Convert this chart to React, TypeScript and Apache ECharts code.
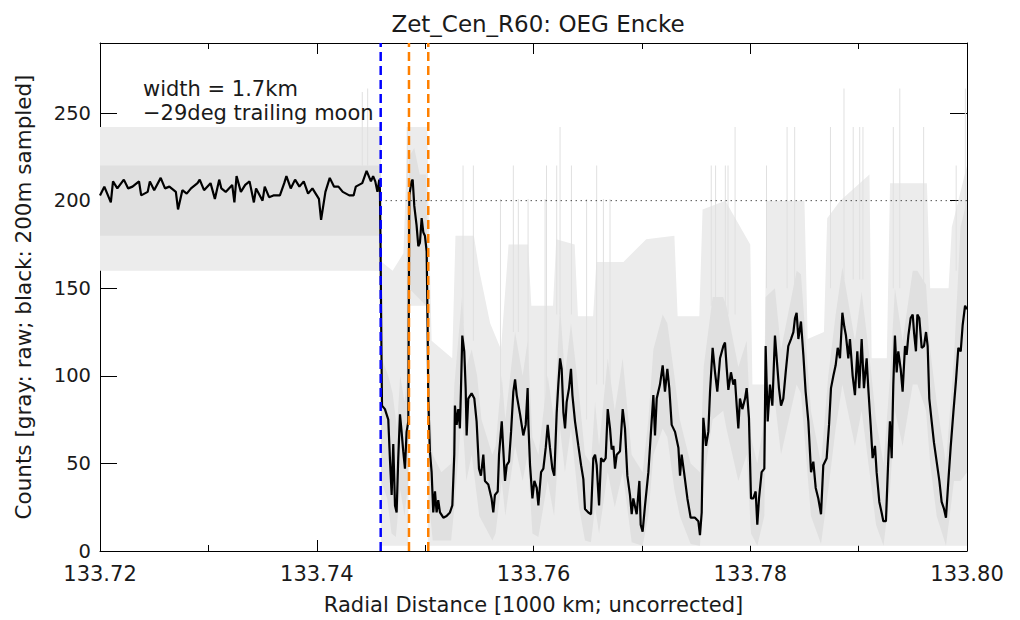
import React, { useEffect, useRef } from "react";
import * as echarts from "echarts";

// ---------- texts ----------
const TITLE = "Zet_Cen_R60: OEG Encke";
const X_NAME = "Radial Distance [1000 km; uncorrected]";
const Y_NAME = "Counts [gray: raw; black: 200m sampled]";
const NOTES = ["width = 1.7km", "\u221229deg trailing moon"];

// ---------- axes (x in km from 133 720 km) ----------
const xTickLabels = ["133.72", "133.74", "133.76", "133.78", "133.80"];
const X_MIN = 0;
const X_MAX = 80;
const X_STEP = 20;
const Y_MIN = 0;
const Y_MAX = 290;
const Y_STEP = 50;

// ---------- markers ----------
const markerKm = [25.9, 28.51, 30.29];
const markerColors = ["#0000ff", "#ff8000", "#ff8000"];
const refLevel = 200;
const refStartKm = 25.9;

// ---------- black: 200 m sampled counts [km, counts] ----------
const blackLine: [number, number][] = [
  [0, 203], [0.4, 208], [1.0, 199], [1.2, 211], [1.6, 207], [2.2, 212], [2.6, 207], [3.0, 208],
  [3.6, 211], [3.8, 203], [4.4, 205], [4.6, 211], [5.0, 206], [5.6, 213], [6.0, 207], [6.4, 208],
  [7.0, 205], [7.2, 195], [7.6, 206], [8.0, 204], [8.4, 207], [9.0, 210], [9.2, 212], [9.6, 206],
  [10.2, 210], [10.6, 201], [11.0, 212], [11.2, 207], [11.6, 205], [12.2, 209], [12.4, 199], [12.6, 214],
  [13.0, 205], [13.4, 209], [13.8, 211], [14.2, 199], [14.4, 207], [15.0, 200], [15.2, 208], [15.6, 202],
  [16.0, 203], [16.6, 203], [17.0, 210], [17.2, 214], [17.6, 207], [18.0, 212], [18.4, 208], [18.8, 211],
  [19.2, 204], [19.6, 207], [20.2, 201], [20.4, 189], [20.8, 205], [21.2, 213], [21.6, 208], [22.0, 208],
  [22.4, 205], [23.0, 203], [23.4, 203], [23.6, 208], [24.2, 210], [24.6, 217], [25.0, 211], [25.2, 214],
  [25.4, 211], [25.6, 205], [25.77, 212], [25.83, 206], [25.89, 171], [25.95, 127], [26.02, 83], [26.29, 81],
  [26.6, 75], [26.75, 53], [26.91, 32], [27.06, 61], [27.22, 26], [27.37, 22], [27.52, 53], [27.68, 78],
  [27.83, 68], [27.98, 57], [28.14, 47], [28.29, 68], [28.45, 74], [28.54, 203], [28.75, 211], [28.85, 212],
  [29.0, 197], [29.21, 186], [29.37, 174], [29.52, 176], [29.68, 190], [29.83, 182], [29.98, 180], [30.14, 171],
  [30.23, 129], [30.29, 87], [30.44, 57], [30.6, 45], [30.75, 22], [30.91, 34], [31.06, 22], [31.21, 29],
  [31.37, 22], [31.68, 19], [31.98, 20], [32.29, 22], [32.51, 26], [32.69, 55], [32.75, 83], [32.91, 72],
  [33.06, 81], [33.21, 70], [33.31, 93], [33.43, 123], [33.61, 114], [33.74, 93], [33.83, 66], [33.98, 87],
  [34.29, 90], [34.54, 87], [34.75, 74], [34.97, 47], [35.15, 43], [35.37, 55], [35.52, 40], [35.83, 38],
  [36.13, 30], [36.29, 22], [36.44, 32], [36.7, 34], [36.82, 55], [37.07, 74], [37.22, 57], [37.37, 40],
  [37.53, 49], [37.74, 51], [37.93, 68], [38.14, 91], [38.3, 98], [38.45, 89], [38.76, 78], [39.06, 66],
  [39.28, 72], [39.46, 93], [39.53, 72], [39.68, 49], [39.9, 30], [40.08, 40], [40.3, 36], [40.45, 26],
  [40.7, 45], [40.91, 47], [41.13, 59], [41.31, 72], [41.52, 59], [41.74, 47], [41.92, 43], [42.14, 79],
  [42.29, 95], [42.45, 110], [42.6, 104], [42.76, 79], [42.91, 70], [43.06, 85], [43.28, 93], [43.46, 104],
  [43.59, 89], [43.83, 74], [44.14, 60], [44.39, 49], [44.6, 41], [44.75, 24], [45.06, 22], [45.31, 21],
  [45.52, 53], [45.68, 55], [45.83, 49], [46.05, 26], [46.23, 53], [46.45, 51], [46.66, 53], [46.85, 81],
  [47.06, 70], [47.21, 58], [47.37, 60], [47.52, 47], [47.68, 55], [47.98, 57], [48.23, 81], [48.44, 70],
  [48.66, 43], [48.9, 32], [49.06, 21], [49.21, 30], [49.52, 21], [49.77, 40], [49.89, 15], [50.07, 11],
  [50.29, 26], [50.6, 45], [50.9, 74], [51.06, 89], [51.21, 66], [51.37, 87], [51.67, 95], [51.92, 106],
  [52.13, 91], [52.35, 104], [52.53, 93], [52.75, 72], [53.06, 68], [53.37, 59], [53.52, 43], [53.67, 55],
  [53.89, 45], [54.2, 30], [54.5, 19], [54.9, 19], [55.21, 17], [55.36, 9], [55.52, 22], [55.67, 76],
  [55.92, 60], [56.13, 68], [56.29, 91], [56.53, 116], [56.75, 102], [56.96, 91], [57.21, 110], [57.52, 117],
  [57.67, 119], [57.82, 105], [57.98, 92], [58.22, 102], [58.44, 95], [58.59, 98], [58.75, 83], [58.9, 70],
  [59.05, 87], [59.27, 81], [59.52, 87], [59.67, 93], [59.88, 76], [60.07, 30], [60.28, 30], [60.5, 34],
  [60.65, 15], [60.81, 30], [61.05, 45], [61.3, 47], [61.42, 117], [61.61, 74], [61.82, 95], [62.04, 83],
  [62.28, 123], [62.44, 110], [62.65, 93], [62.84, 83], [63.05, 87], [63.27, 102], [63.51, 117], [63.76, 121],
  [63.98, 125], [64.13, 133], [64.28, 136], [64.44, 121], [64.68, 131], [64.9, 112], [65.11, 91], [65.36, 74],
  [65.61, 45], [65.82, 51], [66.04, 36], [66.28, 30], [66.53, 21], [66.74, 49], [67.05, 53], [67.27, 72],
  [67.45, 93], [67.67, 100], [67.88, 106], [68.07, 116], [68.28, 110], [68.5, 136], [68.68, 128], [68.83, 123],
  [69.05, 110], [69.2, 121], [69.45, 100], [69.66, 89], [69.88, 114], [70.06, 93], [70.28, 121], [70.49, 93],
  [70.74, 110], [70.89, 93], [71.11, 72], [71.29, 53], [71.51, 60], [71.66, 45], [71.91, 28], [72.12, 22],
  [72.28, 17], [72.52, 17], [72.74, 53], [72.89, 74], [73.05, 53], [73.2, 95], [73.35, 123], [73.51, 102],
  [73.66, 114], [73.88, 104], [74.06, 91], [74.28, 117], [74.43, 112], [74.59, 123], [74.8, 133], [74.99, 135],
  [75.11, 125], [75.29, 114], [75.42, 135], [75.6, 133], [75.82, 116], [76.03, 117], [76.22, 125], [76.37, 117],
  [76.52, 87], [76.74, 74], [76.95, 62], [77.2, 51], [77.45, 40], [77.66, 28], [77.88, 24], [78.06, 19],
  [78.28, 40], [78.49, 59], [78.74, 79], [78.98, 97], [79.2, 116], [79.42, 114], [79.6, 129], [79.82, 140],
  [80, 138],
];

// ---------- gray raw counts: dense core envelope [km, counts] ----------
const grayCoreUpper: [number, number][] = [
  [0, 220], [25.9, 220], [26.0, 110], [26.6, 100], [27.0, 90], [27.4, 70], [27.7, 100], [28.1, 85],
  [28.45, 105], [28.5, 225], [29.0, 230], [29.5, 215], [30.1, 215], [30.25, 150], [30.4, 90], [30.7, 55],
  [31.5, 45], [32.4, 50], [32.7, 95], [33.4, 145], [33.8, 105], [34.3, 115], [34.8, 100], [35.2, 75],
  [36.2, 55], [36.5, 60], [37.07, 100], [37.4, 75], [38.3, 125], [39.0, 100], [39.46, 120], [39.9, 65],
  [40.45, 55], [41.31, 100], [41.9, 75], [42.45, 140], [42.9, 100], [43.46, 130], [44.2, 90], [44.75, 55],
  [45.3, 50], [45.68, 85], [46.05, 60], [46.85, 110], [47.5, 80], [48.23, 110], [49.06, 55], [50.07, 45],
  [50.6, 75], [51.06, 115], [51.92, 135], [52.35, 130], [53.0, 100], [53.5, 75], [54.5, 50], [55.36, 45],
  [55.7, 105], [56.53, 145], [57.5, 145], [57.8, 140], [58.9, 105], [59.67, 120], [60.07, 65], [60.65, 50],
  [61.3, 75], [61.42, 145], [62.28, 150], [62.84, 115], [64.28, 160], [64.68, 158], [65.6, 80], [66.53, 50],
  [67.2, 100], [67.88, 135], [68.5, 162], [69.66, 120], [70.28, 148], [71.11, 105], [71.6, 75], [72.3, 50],
  [72.9, 100], [73.35, 150], [74.06, 120], [74.99, 160], [75.42, 160], [76.22, 152], [76.6, 115], [77.2, 85],
  [78.06, 50], [78.8, 110], [79.4, 185], [80, 200],
];
const grayCoreLower: [number, number][] = [
  [0, 180], [25.9, 180], [25.95, 40], [26.5, 30], [26.9, 10], [27.3, 8], [27.7, 35], [28.1, 20],
  [28.45, 40], [28.5, 150], [29.3, 145], [30.1, 140], [30.25, 90], [30.4, 25], [30.7, 6], [32.4, 6],
  [32.7, 25], [33.4, 80], [33.8, 40], [34.3, 55], [35.0, 20], [36.2, 6], [36.5, 10], [37.07, 40],
  [37.4, 20], [38.3, 60], [39.0, 40], [39.46, 55], [39.9, 10], [40.45, 8], [41.31, 40], [41.9, 20],
  [42.45, 70], [42.9, 45], [43.46, 70], [44.2, 25], [44.75, 6], [45.3, 5], [45.68, 25], [46.05, 10],
  [46.85, 45], [47.5, 25], [48.23, 45], [49.06, 5], [50.07, 3], [50.6, 20], [51.06, 55], [51.92, 70],
  [52.35, 65], [53.0, 35], [53.5, 20], [54.5, 4], [55.36, 3], [55.7, 40], [56.53, 75], [57.5, 80],
  [57.8, 70], [58.9, 40], [59.67, 55], [60.07, 10], [60.65, 3], [61.3, 20], [61.42, 80], [62.28, 85],
  [62.84, 55], [64.28, 95], [64.68, 90], [65.6, 20], [66.53, 4], [67.2, 35], [67.88, 70], [68.5, 95],
  [69.66, 60], [70.28, 80], [71.11, 40], [71.6, 15], [72.3, 3], [72.9, 35], [73.35, 80], [74.06, 60],
  [74.99, 95], [75.42, 95], [76.22, 80], [76.6, 50], [77.2, 20], [78.06, 3], [78.8, 40], [79.4, 40],
  [80, 45],
];
// ---------- gray raw counts: sparse outer envelope [km, counts] ----------
const grayOuterUpper: [number, number][] = [
  [0, 242], [25.9, 242], [26.0, 165], [27.0, 160], [28.0, 170], [28.4, 242], [30.2, 242], [30.3, 200],
  [30.6, 120], [32.5, 110], [32.8, 180], [34.5, 180], [35.0, 160], [36.0, 130], [37.0, 115], [37.7, 175],
  [39.5, 175], [39.8, 140], [41.8, 140], [42.1, 178], [43.8, 175], [44.1, 134], [45.5, 134], [45.8, 165],
  [48.3, 165], [50.4, 178], [53.0, 180], [53.3, 134], [55.3, 134], [55.6, 195], [57.7, 200], [60.0, 175],
  [60.2, 95], [61.3, 95], [61.5, 200], [65.0, 200], [65.3, 121], [66.8, 125], [67.1, 190], [68.3, 200],
  [71.0, 215], [71.2, 110], [72.6, 110], [72.9, 210], [76.3, 210], [76.6, 150], [78.3, 150], [78.6, 185],
  [80, 220],
];
const grayOuterLower: [number, number][] = [
  [0, 160], [25.9, 160], [25.92, 3], [28.45, 3], [28.5, 140], [30.2, 140], [30.25, 3], [80, 3],
];

// ---------- gray: isolated tall raw spikes [km, lo, hi] ----------
const graySpikes: number[][] = [
  [24.2, 220, 262], [24.7, 220, 264], [28.35, 100, 242], [33.5, 130, 220], [34.45, 120, 220],
  [36.95, 90, 201], [38.14, 125, 220], [38.6, 125, 201], [39.5, 100, 201], [41.07, 80, 201],
  [41.2, 80, 220], [42.14, 135, 220], [42.45, 135, 242], [43.5, 135, 220], [44.9, 75, 201],
  [45.83, 95, 220], [46.45, 95, 201], [47.06, 95, 201], [56.4, 140, 220], [56.8, 140, 220],
  [57.7, 135, 220], [57.95, 135, 220], [58.6, 135, 242], [61.5, 150, 220], [63.4, 150, 242],
  [64.1, 150, 242], [67.4, 150, 242], [68.65, 155, 264], [69.5, 155, 242], [70.1, 155, 242],
  [70.4, 155, 242], [73.2, 150, 242], [73.8, 150, 264], [76.0, 150, 242], [79.0, 160, 220],
  [79.85, 160, 264],
];

// ---------- styles ----------
const FONT = "DejaVu Sans";
const TXT = "#1a1a1a";
const CORE = "#e0e0e0";
const FRINGE = "#ececec";

function renderEnvelope(_params: any, api: any) {
  const toPx = (p: [number, number]) => api.coord(p);
  const poly = (upper: [number, number][], lower: [number, number][], fill: string) => ({
    type: "polygon",
    shape: { points: [...upper.map(toPx), ...lower.slice().reverse().map(toPx)] },
    style: { fill },
  });
  return {
    type: "group",
    children: [
      poly(grayOuterUpper, grayOuterLower, FRINGE),
      poly(grayCoreUpper, grayCoreLower, CORE),
    ],
  };
}

function renderSpike(_params: any, api: any) {
  const lo = api.coord([api.value(0), api.value(1)]);
  const hi = api.coord([api.value(0), api.value(2)]);
  return {
    type: "rect",
    shape: { x: lo[0] - 0.5, y: hi[1], width: 1, height: lo[1] - hi[1] },
    style: { fill: CORE },
  };
}

export default function App() {
  const ref = useRef<HTMLDivElement>(null);
  useEffect(() => {
    if (!ref.current) return;
    const chart = echarts.init(ref.current, undefined, { renderer: "svg" });
    const axisLine = { show: true, onZero: false, lineStyle: { color: "#000", width: 1 } };
    const tickStyle = { color: "#000", width: 1 };
    const xCommon = {
      type: "value",
      min: X_MIN,
      max: X_MAX,
      interval: X_STEP,
      axisLine,
      axisTick: { show: true, inside: true, length: 11, lineStyle: tickStyle },
      minorTick: { show: true, splitNumber: 2, length: 6, lineStyle: tickStyle },
      splitLine: { show: false },
      minorSplitLine: { show: false },
    };
    const yCommon = {
      type: "value",
      min: Y_MIN,
      max: Y_MAX,
      interval: Y_STEP,
      axisLine,
      axisTick: { show: true, inside: true, length: 17, lineStyle: tickStyle },
      splitLine: { show: false },
    };
    const markerSeries = markerKm.map((km, i) => ({
      type: "line",
      data: [
        [km, Y_MIN],
        [km, Y_MAX],
      ],
      symbol: "none",
      silent: true,
      z: 5,
      lineStyle: { color: markerColors[i], width: 2.5, type: [9, 5] },
    }));
    chart.setOption({
      animation: false,
      title: {
        text: TITLE,
        left: 533,
        top: 7,
        textAlign: "center",
        textStyle: { fontFamily: FONT, fontSize: 23, fontWeight: "normal", color: TXT },
      },
      grid: { left: 100, right: 53, top: 43, bottom: 68, containLabel: false },
      xAxis: [
        {
          ...xCommon,
          position: "bottom",
          name: X_NAME,
          nameLocation: "middle",
          nameGap: 43,
          nameTextStyle: { fontFamily: FONT, fontSize: 21, color: TXT },
          axisLabel: {
            show: true,
            margin: 12,
            fontFamily: FONT,
            fontSize: 21,
            color: TXT,
            formatter: (v: number) => xTickLabels[Math.round((v - X_MIN) / X_STEP)] ?? "",
          },
        },
        { ...xCommon, position: "top", axisLabel: { show: false } },
      ],
      yAxis: [
        {
          ...yCommon,
          position: "left",
          name: Y_NAME,
          nameLocation: "middle",
          nameGap: 66,
          nameTextStyle: { fontFamily: FONT, fontSize: 21.5, color: TXT },
          axisLabel: { show: true, margin: 9, fontFamily: FONT, fontSize: 19.5, color: TXT, showMaxLabel: false },
        },
        { ...yCommon, position: "right", axisLabel: { show: false } },
      ],
      graphic: [
        {
          type: "text",
          x: 143,
          y: 89,
          z: 10,
          style: { text: NOTES[0], fill: TXT, font: `21px '${FONT}'`, verticalAlign: "middle" },
        },
        {
          type: "text",
          x: 143,
          y: 113,
          z: 10,
          style: { text: NOTES[1], fill: TXT, font: `21px '${FONT}'`, verticalAlign: "middle" },
        },
      ],
      series: [
        {
          type: "custom",
          renderItem: renderEnvelope,
          data: [[X_MIN, Y_MIN]],
          silent: true,
          clip: true,
          z: 1,
        },
        {
          type: "custom",
          renderItem: renderSpike,
          data: graySpikes,
          encode: { x: [0], y: [1, 2] },
          silent: true,
          z: 1,
        },
        {
          type: "line",
          data: [
            [refStartKm, refLevel],
            [X_MAX, refLevel],
          ],
          symbol: "none",
          silent: true,
          z: 2,
          lineStyle: { color: "#000", width: 1, type: [1, 4] },
        },
        {
          type: "line",
          data: blackLine,
          symbol: "none",
          showSymbol: false,
          silent: true,
          z: 3,
          lineStyle: { color: "#000", width: 2.2 },
        },
        ...markerSeries,
      ],
    });
    return () => chart.dispose();
  }, []);
  return (
    <div
      ref={ref}
      style={{ position: "absolute", left: 0, top: 0, width: 1020, height: 620, background: "#fff" }}
    />
  );
}
